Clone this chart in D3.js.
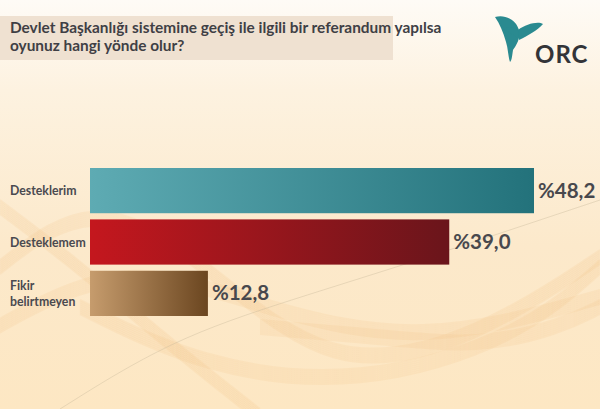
<!DOCTYPE html>
<html>
<head>
<meta charset="utf-8">
<script src="https://cdn.jsdelivr.net/npm/d3@7"></script>
<style>
  body { margin: 0; }
  svg { display: block; font-family: Lato, "Open Sans", sans-serif; }
</style>
</head>
<body>
<script>
var categories = [['Desteklerim'], ['Desteklemem'], ['Fikir', 'belirtmeyen']]
var values = [48.2, 39.0, 12.8]
var valueLabels = ['%48,2', '%39,0', '%12,8']
var titleLines = ['Devlet Başkanlığı sistemine geçiş ile ilgili bir referandum yapılsa', 'oyunuz hangi yönde olur?']
var barColors = [['#5eabb3', '#23727b'], ['#c4171e', '#6a151b'], ['#c69c6d', '#6b4620']]

var width = 600
var height = 409
var margin = {left: 90, top: 168}

var svg = d3.select('body').append('svg').attr('width', width).attr('height', height)
var defs = svg.append('defs')

// background
var bg = defs.append('linearGradient').attr('id', 'bg').attr('x1', 0).attr('y1', 0).attr('x2', 0).attr('y2', 1)
bg.append('stop').attr('offset', '0%').attr('stop-color', '#fefbf6')
bg.append('stop').attr('offset', '22%').attr('stop-color', '#fdf2e0')
bg.append('stop').attr('offset', '60%').attr('stop-color', '#fce9cb')
bg.append('stop').attr('offset', '100%').attr('stop-color', '#fde7c3')
svg.append('rect').attr('width', width).attr('height', height).attr('fill', 'url(#bg)')

// soft wave bands
var waves = svg.append('g').attr('fill', 'none')
var line = d3.line().curve(d3.curveBasis)
var wavePaths = [
  [[0, 260], [90, 190], [200, 250], [330, 370], [480, 330], [600, 250]],
  [[-20, 330], [120, 250], [260, 300], [420, 340], [600, 290]],
  [[80, 300], [200, 360], [360, 380], [520, 330], [600, 260]],
  [[260, 320], [380, 330], [480, 340], [560, 320], [600, 300]],
  [[0, 200], [80, 260], [160, 330], [260, 409]]
]
wavePaths.forEach(function (p, i) {
  for (var k = 0; k < 8; k++) {
    waves.append('path')
      .attr('d', line(p.map(function (q) { return [q[0], q[1] + k * 2] })))
      .attr('stroke', '#f4be84')
      .attr('stroke-opacity', 0.16)
      .attr('stroke-width', 2)
  }
})
waves.append('path')
  .attr('d', line([[60, 409], [170, 340], [290, 300], [420, 260], [600, 200]]))
  .attr('stroke', '#c8b89c').attr('stroke-opacity', 0.4).attr('stroke-width', 1)

// title band
svg.append('rect').attr('x', 0).attr('y', 16).attr('width', 393).attr('height', 44).attr('fill', '#efe1d1')
svg.append('g').selectAll('text').data(titleLines).join('text')
  .attr('x', 10).attr('y', function (d, i) { return 33 + i * 18 })
  .attr('font-size', 15.4).attr('font-weight', 700).attr('fill', '#3f3f45')
  .text(function (d) { return d })

// logo
var logo = svg.append('g').attr('fill', '#2a8a90')
logo.append('path').attr('d', 'M495,17 C504,14 516,19 519,30 C521,38 516,46 513,50 C512,56 512,60 510,62 C508,56 508,48 506,42 C503,32 500,24 495,17 Z')
logo.append('path').attr('d', 'M518,30 C526,24 538,21 543,24 C538,30 527,36 519,40 Z')
logo.append('path').attr('d', 'M519,31 C514,26 507,26 504,30 C509,32 514,35 518,39 Z')
svg.append('text').attr('x', 535).attr('y', 63).attr('font-size', 24).attr('font-weight', 700)
  .attr('fill', '#333438').attr('letter-spacing', 1).text('ORC')

// scales
var x = d3.scaleLinear().domain([0, 48.2]).range([0, 444])
var y = d3.scaleBand().domain(d3.range(values.length)).range([0, 148]).paddingInner(0.12)

barColors.forEach(function (c, i) {
  var g = defs.append('linearGradient').attr('id', 'bar' + i)
  g.append('stop').attr('offset', '0%').attr('stop-color', c[0])
  g.append('stop').attr('offset', '100%').attr('stop-color', c[1])
})

var chart = svg.append('g').attr('transform', 'translate(' + margin.left + ',' + margin.top + ')')

chart.selectAll('rect.bar').data(values).join('rect')
  .attr('class', 'bar')
  .attr('x', 0)
  .attr('y', function (d, i) { return y(i) })
  .attr('width', function (d) { return x(d) })
  .attr('height', y.bandwidth())
  .attr('fill', function (d, i) { return 'url(#bar' + i + ')' })

chart.selectAll('text.val').data(values).join('text')
  .attr('class', 'val')
  .attr('x', function (d) { return x(d) + 4 })
  .attr('y', function (d, i) { return y(i) + y.bandwidth() / 2 + 7 })
  .attr('font-size', 20.5).attr('font-weight', 700).attr('fill', '#48484d')
  .text(function (d, i) { return valueLabels[i] })

var cats = svg.append('g').selectAll('text').data(categories).join('text')
  .attr('font-size', 12.3).attr('font-weight', 700).attr('fill', '#4a4a50')
  .attr('y', function (d, i) { return margin.top + y(i) + y.bandwidth() / 2 + 4.5 - (d.length - 1) * 8 })
cats.selectAll('tspan').data(function (d) { return d }).join('tspan')
  .attr('x', 10).attr('dy', function (d, j) { return j ? 16 : 0 })
  .text(function (d) { return d })
</script>
</body>
</html>
